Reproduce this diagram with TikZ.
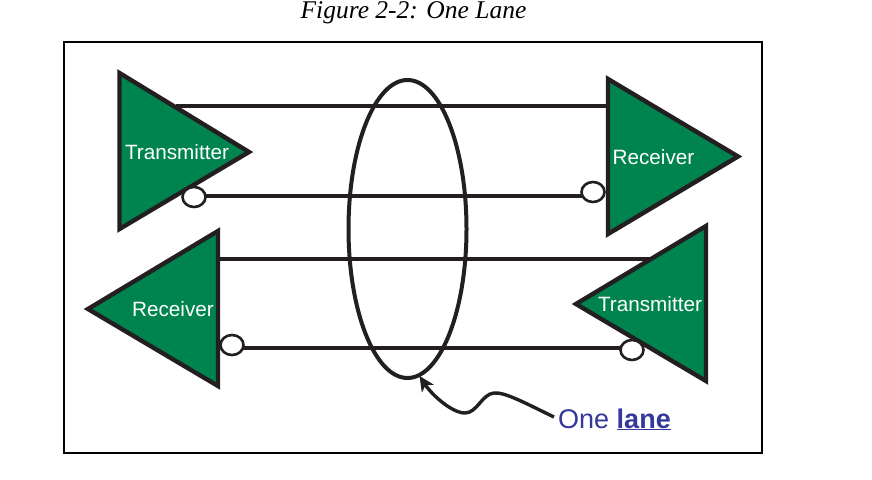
\documentclass[tikz,border=0pt]{standalone}
\usepackage{fontspec}
\setmainfont{Liberation Sans}
\newfontfamily\capfont{Liberation Serif}
\usetikzlibrary{arrows.meta,shapes.geometric}
\definecolor{lanegreen}{HTML}{00844F}
\definecolor{inkdark}{HTML}{231F20}
\definecolor{laneblue}{HTML}{33389A}
\tikzset{
  wire/.style={draw=inkdark,line width=4.2pt},
  tri/.style={draw=inkdark,fill=lanegreen,line width=4.4pt,miter limit=10},
  bubble/.style={draw=inkdark,fill=white,line width=2.6pt,ellipse,minimum width=23pt,minimum height=20pt,inner sep=0pt},
  lbl/.style={text=white,font=\fontsize{20.7}{24}\selectfont,inner sep=0pt},
  lanelbl/.style={text=laneblue,font=\fontsize{27}{32}\selectfont,inner sep=0pt,anchor=base west},
}
\begin{document}
\begin{tikzpicture}[x=1pt,y=-1pt]
\useasboundingbox (0,0) rectangle (872,479);
\node[font=\capfont\itshape\fontsize{25.5}{30}\selectfont,inner sep=0pt,anchor=base] (title) at (413.5,18.5) {Figure 2-2: One Lane};
\draw[black,line width=2.2pt,fill=white] (64,42) rectangle (762,453);
% end points of the wires on the triangles
\coordinate (w1a) at (176,106);
\coordinate (w1b) at (612,106);
\coordinate (w3a) at (214,259);
\coordinate (w3b) at (655,259);
% wires
\draw[wire] (w1a) -- (w1b);
\draw[wire] (w3a) -- (w3b);
% triangles
\draw[tri] (119.5,73) -- (249,152) -- (119.5,229) -- cycle;
\draw[tri] (608,79) -- (738,156.5) -- (608,234) -- cycle;
\draw[tri] (218,231) -- (88,309) -- (218,386) -- cycle;
\draw[tri] (706,226) -- (576,304) -- (706,381) -- cycle;
% wires with bubbles, the bubbles on top
\draw[wire] (194,196) coordinate (b1c) -- (593,196) coordinate (b2c);
\draw[wire] (232,348) coordinate (b3c) -- (632,348) coordinate (b4c);
\node[bubble] (b1) at (194,197) {};
\node[bubble] (b2) at (593,192) {};
\node[bubble] (b3) at (232,345) {};
\node[bubble] (b4) at (632,350) {};
% lane ellipse
\node[draw=inkdark,line width=4pt,ellipse,minimum width=118pt,minimum height=298pt,inner sep=0pt] (lane) at (407.5,229) {};
% labels
\node[lbl] (t1) at (177,152) {Transmitter};
\node[lbl] (r1) at (653.5,157) {Receiver};
\node[lbl] (r2) at (173,309.5) {Receiver};
\node[lbl] (t2) at (650,304.5) {Transmitter};
\node[lanelbl] (one) at (558,428) {One \textbf{\underline{lane}}};
% pointer
\coordinate (ptail) at (554,417);
\coordinate (phead) at (419.5,376);
\draw[draw=inkdark,line width=3.4pt,-{Stealth[length=15pt,width=14pt,inset=4pt]}]
  (ptail) .. controls (525,403) and (505,392) .. (494,393)
  .. controls (482,394) and (477,413) .. (465,413)
  .. controls (452,413) and (432,395) .. (phead);
\end{tikzpicture}
\end{document}
